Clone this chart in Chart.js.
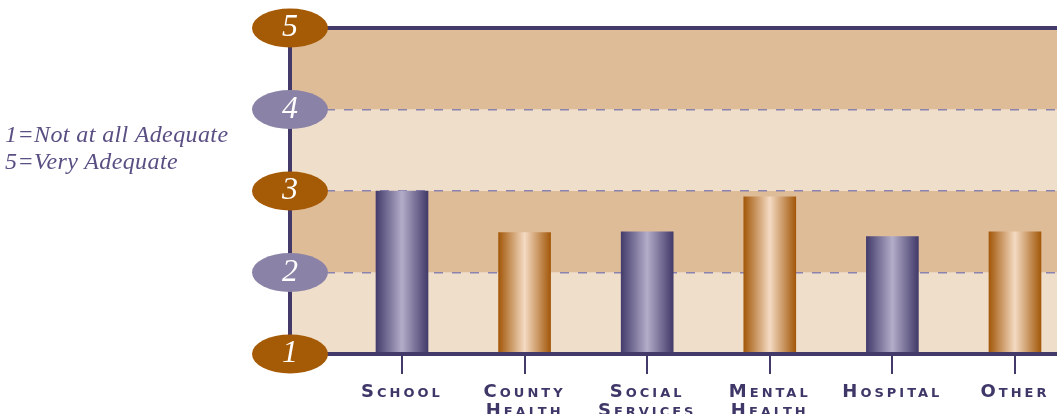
<!DOCTYPE html>
<html><head><meta charset="utf-8">
<script src="https://cdn.jsdelivr.net/npm/chart.js@4"></script>
<style>
html,body{margin:0;padding:0;background:#fff;overflow:hidden;width:1057px;height:414px;}
#wrap{position:relative;width:1057px;height:414px;overflow:hidden;}
#c{position:absolute;left:0;top:0;}
#note{position:absolute;left:5px;top:121px;font-family:"Liberation Serif",serif;font-style:italic;font-size:24px;letter-spacing:0.4px;line-height:27.4px;color:#5a4f83;white-space:nowrap;}
</style></head><body>
<div id="wrap"><canvas id="c" width="1090" height="414"></canvas>
<div id="note">1=Not at all Adequate<br>5=Very Adequate</div></div>
<script>
// ---- data ----
const categories = [['School'], ['County', 'Health'], ['Social', 'Services'], ['Mental', 'Health'], ['Hospital'], ['Other']];
const ratings = [3.0, 2.49, 2.50, 2.93, 2.44, 2.50];
const ratingTicks = [1, 2, 3, 4, 5];

// ---- styling helpers ----
const AXIS = '#433a6a';
function barFill(c) {
  const even = (c.dataIndex || 0) % 2 === 0;
  const fallback = even ? '#6b6390' : '#c98a4e';
  if (c.type !== 'data') return fallback;
  const chart = c.chart, xs = chart.scales.x;
  const cx = xs ? xs.getPixelForValue(c.dataIndex) : NaN;
  if (!isFinite(cx)) return fallback;
  const g = chart.ctx.createLinearGradient(cx - 26, 0, cx + 26, 0);
  if (even) {
    g.addColorStop(0, '#443c6c'); g.addColorStop(0.5, '#b3adc9'); g.addColorStop(1, '#423a69');
  } else {
    g.addColorStop(0, '#a3580a'); g.addColorStop(0.5, '#f4dbc3'); g.addColorStop(1, '#a3580a');
  }
  return g;
}

const decor = {
  id: 'decor',
  beforeLayout(chart) { chart.ctx.letterSpacing = '3px'; },
  beforeDraw(chart) {
    const { ctx, chartArea: a, scales: { y } } = chart;
    ctx.letterSpacing = '3px';
    ctx.save();
    for (let i = 0; i < ratingTicks.length - 1; i++) {
      const lo = ratingTicks[i], hi = ratingTicks[i + 1];
      const top = y.getPixelForValue(hi), bot = y.getPixelForValue(lo);
      ctx.fillStyle = (i % 2 === 1) ? '#dfbc98' : '#efdeca';
      ctx.fillRect(a.left, top, a.right - a.left, bot - top);
    }
    ctx.restore();
  },
  afterDatasetsDraw(chart) {
    const { ctx, chartArea: a, scales: { y } } = chart;
    const yTop = y.getPixelForValue(ratingTicks[ratingTicks.length - 1]);
    const yBot = y.getPixelForValue(ratingTicks[0]);
    ctx.save();
    ctx.setLineDash([]);
    ctx.strokeStyle = AXIS; ctx.lineWidth = 4;
    ctx.beginPath();
    ctx.moveTo(a.right + 5, yTop); ctx.lineTo(a.left, yTop);
    ctx.lineTo(a.left, yBot); ctx.lineTo(a.right + 5, yBot);
    ctx.stroke();
    ratingTicks.forEach((v, i) => {
      ctx.beginPath();
      ctx.ellipse(a.left, y.getPixelForValue(v), 38, 19.5, 0, 0, Math.PI * 2);
      ctx.fillStyle = (i % 2 === 0) ? '#a55a05' : '#8b83a7';
      ctx.fill();
    });
    ctx.restore();
  }
};

new Chart(document.getElementById('c'), {
  type: 'bar',
  data: {
    datasets: [{
      data: ratings.map((v, i) => ({ x: i, y: v })),
      backgroundColor: barFill,
      borderWidth: 0,
      barThickness: 52
    }]
  },
  options: {
    responsive: false,
    animation: false,
    devicePixelRatio: 1,
    layout: { padding: { top: 28, left: 290, right: 0, bottom: 0 } },
    plugins: { legend: { display: false }, tooltip: { enabled: false } },
    scales: {
      x: {
        type: 'linear',
        offset: false,
        min: -0.9135,
        max: 5.612,
        afterBuildTicks: s => { s.ticks = categories.map((_, i) => ({ value: i })); },
        afterFit: s => { s.height = 60; s.paddingLeft = 0; s.paddingRight = 0; },
        grid: { display: true, offset: false, drawOnChartArea: false, drawTicks: true, tickLength: 20, tickColor: AXIS, tickWidth: 2, color: AXIS, lineWidth: 2 },
        border: { display: false },
        ticks: {
          autoSkip: false, maxRotation: 0, minRotation: 0, padding: 9,
          color: '#3f3768',
          font: { family: "'DejaVu Sans'", weight: 'small-caps bold', size: 18, lineHeight: 1.05 },
          callback: v => categories[v]
        }
      },
      y: {
        min: 1, max: 5,
        afterBuildTicks: s => { s.ticks = ratingTicks.map(v => ({ value: v })); },
        afterFit: s => { s.width = 0; s.paddingTop = 0; s.paddingBottom = 0; },
        grid: { color: '#8a83b0', lineWidth: 1.5, drawTicks: false },
        border: { display: false, dash: [9, 9] },
        ticks: {
          mirror: true, padding: -8, z: 1,
          color: '#ffffff',
          font: { family: "'Liberation Serif'", style: 'italic', size: 32 }
        }
      }
    }
  },
  plugins: [decor]
});
</script>
</body></html>
